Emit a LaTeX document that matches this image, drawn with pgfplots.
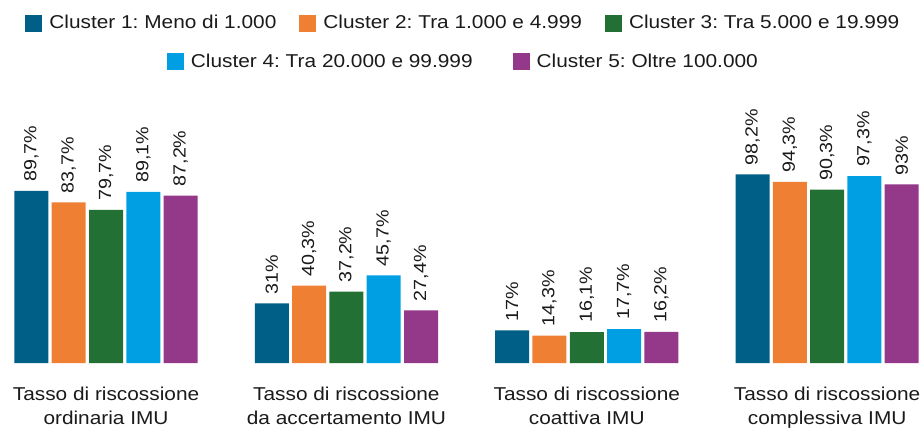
\documentclass[border=0pt]{standalone}
\usepackage{fontspec}
\setmainfont{Liberation Sans}[FakeStretch=1.12]
\usepackage{pgfplots}
\pgfplotsset{compat=1.18}
\definecolor{c1}{HTML}{005F87}
\definecolor{c2}{HTML}{EF8033}
\definecolor{c3}{HTML}{237034}
\definecolor{c4}{HTML}{009FE3}
\definecolor{c5}{HTML}{94388A}
\definecolor{txt}{HTML}{1A1A1A}
\pgfplotsset{
  sqlegend/.style={
    legend image code/.code={\fill[##1] (0pt,-8.5pt) rectangle (17pt,8.5pt);},
  },
  base/.style={
    scale only axis, width=908pt, height=192pt,
    xmin=-0.3995, xmax=3.378, ymin=0, ymax=100,
    sqlegend,
  }
}
\begin{document}
\frenchspacing
\fontsize{18.6}{23.5}\selectfont\color{txt}
\begin{tikzpicture}
\begin{axis}[base, name=ax,
  ybar=3.3pt, bar width=34pt,
  axis line style={draw=none}, tick style={draw=none},
  ytick=\empty,
  xtick={0,1,2,3},
  xticklabels={{Tasso di riscossione\\ordinaria IMU},{Tasso di riscossione\\da accertamento IMU},{Tasso di riscossione\\coattiva IMU},{Tasso di riscossione\\complessiva IMU}},
  xticklabel style={align=center, text=txt, font=\fontsize{18.6}{23.5}\selectfont, inner sep=0pt, yshift=-20pt},
  clip=false,
  nodes near coords,
  point meta=y,
  /pgf/number format/.cd, use comma, 1000 sep={}, assume math mode=true,
  /pgfplots/.cd,
  every node near coord/.append style={rotate=90, anchor=west, inner xsep=9pt, inner ysep=0pt, text=txt, font=\fontsize{17.6}{20}\selectfont},
  nodes near coords={\pgfmathprintnumber{\pgfplotspointmeta}\%},
  legend columns=3,
  legend style={draw=none, fill=none, at={(0.502,1.768)}, anchor=center,
    font=\fontsize{18.6}{22}\selectfont, text=txt,
    /tikz/every even column/.append style={column sep=16pt},
    nodes={inner xsep=7pt}},
]
\addplot[draw=none, fill=c1, sqlegend] coordinates {(0,89.7) (1,31) (2,17) (3,98.2)};
\addplot[draw=none, fill=c2, sqlegend] coordinates {(0,83.7) (1,40.3) (2,14.3) (3,94.3)};
\addplot[draw=none, fill=c3, sqlegend] coordinates {(0,79.7) (1,37.2) (2,16.1) (3,90.3)};
\addplot[draw=none, fill=c4, sqlegend] coordinates {(0,89.1) (1,45.7) (2,17.7) (3,97.3)};
\addplot[draw=none, fill=c5, sqlegend] coordinates {(0,87.2) (1,27.4) (2,16.2) (3,93)};
\legend{Cluster 1: Meno di 1.000, Cluster 2: Tra 1.000 e 4.999, Cluster 3: Tra 5.000 e 19.999}
\end{axis}
\begin{axis}[base, hide axis,
  legend columns=2,
  legend style={draw=none, fill=none, at={(0.502,1.568)}, anchor=center,
    font=\fontsize{18.6}{22}\selectfont, text=txt,
    /tikz/every even column/.append style={column sep=33pt},
    nodes={inner xsep=7pt}},
]
\addlegendimage{draw=none, fill=c4, sqlegend}
\addlegendentry{Cluster 4: Tra 20.000 e 99.999}
\addlegendimage{draw=none, fill=c5, sqlegend}
\addlegendentry{Cluster 5: Oltre 100.000}
\end{axis}
\pgfresetboundingbox
\path[use as bounding box] ([shift={(-10pt,-79pt)}]ax.south west) rectangle ([shift={(914pt,363pt)}]ax.south west);
\end{tikzpicture}
\end{document}
